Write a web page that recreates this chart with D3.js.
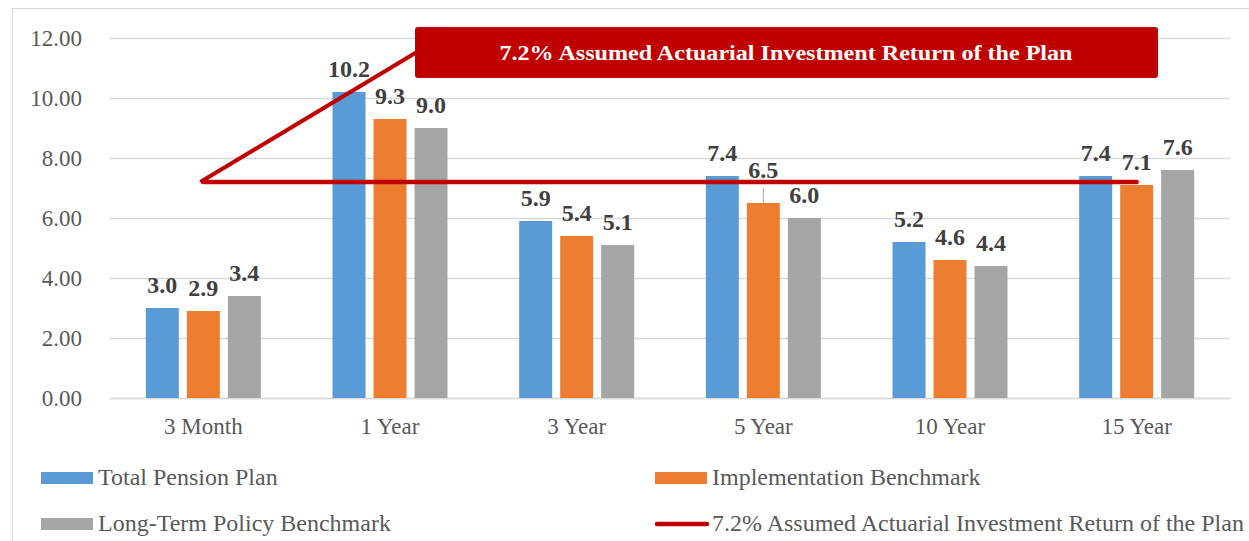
<!DOCTYPE html>
<html lang="en">
<head>
  <meta charset="UTF-8">
  <title>Pension Plan Returns</title>
  <script src="https://d3js.org/d3.v7.min.js"></script>
  <style>
    body {
      margin: 0;
      background: #fff;
    }
    svg {
      display: block;
      font-family: "Times New Roman", "Liberation Serif", serif;
    }
    .tick-label {
      font-size: 23px;
      fill: #595959;
    }
    .legend-label {
      font-size: 24px;
      fill: #595959;
    }
    .value-label {
      font-size: 24px;
      font-weight: bold;
      fill: #404040;
    }
  </style>
</head>
<body>
  <svg id="chart" width="1249" height="541"></svg>

  <script>
    // data
    const periods = ["3 Month", "1 Year", "3 Year", "5 Year", "10 Year", "15 Year"];
    const seriesNames = ["Total Pension Plan", "Implementation Benchmark", "Long-Term Policy Benchmark"];
    const totalPlan = [3.0, 10.2, 5.9, 7.4, 5.2, 7.4];
    const implBenchmark = [2.9, 9.3, 5.4, 6.5, 4.6, 7.1];
    const policyBenchmark = [3.4, 9.0, 5.1, 6.0, 4.4, 7.6];
    const assumedReturn = [7.2, 7.2, 7.2, 7.2, 7.2, 7.2];
    const lineName = "7.2% Assumed Actuarial Investment Return of the Plan";
    const yTicks = [0, 2, 4, 6, 8, 10, 12];

    const colors = ["#5b9bd5", "#ed7d31", "#a5a5a5"];
    const red = "#c00000";

    const svg = d3.select("#chart");

    // outer frame
    svg.append("rect")
      .attr("x", 12.5).attr("y", 8.5)
      .attr("width", 1260).attr("height", 560)
      .attr("fill", "none")
      .attr("stroke", "#d9d9d9")
      .attr("stroke-width", 1);

    const x = d3.scaleBand()
      .domain(periods)
      .range([110, 1230]);

    const xInner = d3.scaleBand()
      .domain(seriesNames)
      .range([0, 115])
      .paddingInner(8 / 41);

    const y = d3.scaleLinear()
      .domain([0, 12])
      .range([398, 38]);

    // gridlines + y labels
    const yAxis = svg.append("g")
      .attr("transform", "translate(110,0)")
      .call(d3.axisLeft(y).tickValues(yTicks).tickSize(-1120).tickFormat(d3.format(".2f")))
      .attr("font-family", null)
      .attr("font-size", null);
    yAxis.select(".domain").remove();
    yAxis.selectAll("line").attr("stroke", "#d9d9d9").attr("stroke-width", 1.5);
    yAxis.selectAll("text")
      .attr("class", "tick-label")
      .attr("x", -28)
      .attr("fill", null);

    // x axis
    const xAxis = svg.append("g")
      .attr("transform", "translate(0,398)")
      .call(d3.axisBottom(x).tickSize(0))
      .attr("font-family", null)
      .attr("font-size", null);
    xAxis.select(".domain").attr("stroke", "#d9d9d9").attr("stroke-width", 1.5);
    xAxis.selectAll("text")
      .attr("class", "tick-label")
      .attr("y", 20)
      .attr("dy", "0.71em")
      .attr("fill", null);

    const allSeries = [totalPlan, implBenchmark, policyBenchmark];
    const half = xInner.range()[1] / 2;

    allSeries.forEach((values, s) => {
      const g = svg.append("g");
      const cells = periods.map((p, i) => ({ p, v: values[i] }));

      g.selectAll("rect")
        .data(cells)
        .join("rect")
        .attr("x", d => x(d.p) + x.bandwidth() / 2 - half + xInner(seriesNames[s]))
        .attr("y", d => y(d.v))
        .attr("width", xInner.bandwidth())
        .attr("height", d => y(0) - y(d.v))
        .attr("fill", colors[s]);
    });

    // value labels (one label was pulled up with a leader line in the original)
    allSeries.forEach((values, s) => {
      periods.forEach((p, i) => {
        const cx = x(p) + x.bandwidth() / 2 - half + xInner(seriesNames[s]) + xInner.bandwidth() / 2;
        const lifted = (p === "5 Year" && s === 1);
        const base = y(values[i]) - (lifted ? 25 : 15);
        if (lifted) {
          svg.append("line")
            .attr("x1", cx).attr("x2", cx)
            .attr("y1", base + 10).attr("y2", y(values[i]))
            .attr("stroke", "#a6a6a6")
            .attr("stroke-width", 1);
        }
        svg.append("text")
          .attr("class", "value-label")
          .attr("x", cx)
          .attr("y", base)
          .attr("text-anchor", "middle")
          .text(values[i].toFixed(1));
      });
    });

    // assumed return line
    const line = d3.line()
      .x((d, i) => x(periods[i]) + x.bandwidth() / 2)
      .y(d => y(d));

    svg.append("path")
      .datum(assumedReturn)
      .attr("d", line)
      .attr("fill", "none")
      .attr("stroke", red)
      .attr("stroke-width", 4.5)
      .attr("stroke-linecap", "round");

    // callout
    const anchorX = x(periods[0]) + x.bandwidth() / 2 - 3;
    const anchorY = y(assumedReturn[0]);
    svg.append("line")
      .attr("x1", anchorX).attr("y1", anchorY)
      .attr("x2", 417).attr("y2", 52)
      .attr("stroke", red)
      .attr("stroke-width", 4);

    svg.append("rect")
      .attr("x", 415).attr("y", 27)
      .attr("width", 743).attr("height", 51)
      .attr("rx", 3)
      .attr("fill", red);

    svg.append("text")
      .attr("x", 786)
      .attr("y", 60)
      .attr("text-anchor", "middle")
      .attr("font-size", "21px")
      .attr("font-weight", "bold")
      .attr("fill", "#fff")
      .attr("textLength", 573)
      .attr("lengthAdjust", "spacingAndGlyphs")
      .text(lineName);

    // legend
    const legendItems = [
      { name: seriesNames[0], color: colors[0], type: "rect", x: 41, y: 472 },
      { name: seriesNames[1], color: colors[1], type: "rect", x: 655, y: 472 },
      { name: seriesNames[2], color: colors[2], type: "rect", x: 41, y: 518 },
      { name: lineName, color: red, type: "line", x: 655, y: 518 }
    ];

    const legend = svg.selectAll(".legend")
      .data(legendItems)
      .join("g")
      .attr("class", "legend")
      .attr("transform", d => `translate(${d.x},${d.y})`);

    legend.filter(d => d.type === "rect")
      .append("rect")
      .attr("width", 52)
      .attr("height", 12)
      .attr("fill", d => d.color);

    legend.filter(d => d.type === "line")
      .append("line")
      .attr("x1", 2).attr("x2", 52)
      .attr("y1", 6).attr("y2", 6)
      .attr("stroke", d => d.color)
      .attr("stroke-width", 4.5)
      .attr("stroke-linecap", "round");

    legend.append("text")
      .attr("class", "legend-label")
      .attr("x", 57)
      .attr("y", 13)
      .text(d => d.name);
  </script>
</body>
</html>
